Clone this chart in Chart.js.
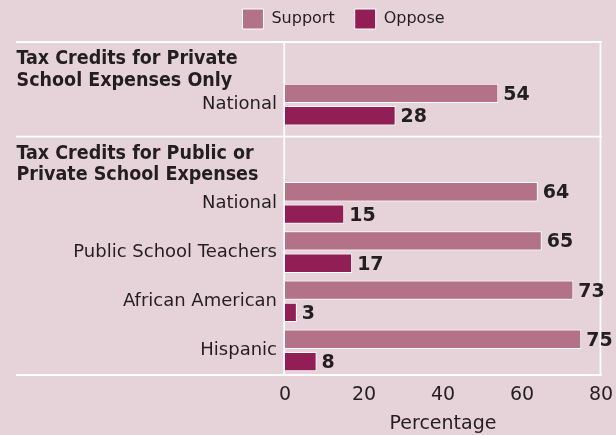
<!DOCTYPE html>
<html>
<head>
<meta charset="utf-8">
<script src="https://cdn.jsdelivr.net/npm/chart.js@4.4.1/dist/chart.umd.min.js"></script>
<style>
  html, body { margin: 0; padding: 0; background: #E6D3D9; }
  canvas { display: block; }
</style>
</head>
<body>
<canvas id="chart" width="616" height="435"></canvas>
<script>
// Survey results: support / oppose for education tax credits (percent)
const sectionTitles = [
  ['Tax Credits for Private', 'School Expenses Only'],
  ['Tax Credits for Public or', 'Private School Expenses']
];
const groupLabels = ['National', 'National', 'Public School Teachers', 'African American', 'Hispanic'];
const groupSections = [0, 1, 1, 1, 1];
const supportValues = [54, 64, 65, 73, 75];
const opposeValues = [28, 15, 17, 3, 8];
const xTicks = [0, 20, 40, 60, 80];
const seriesNames = ['Support', 'Oppose'];

const TEXT = '#231F20';
const FONT = '"DejaVu Sans", "Open Sans", sans-serif';
const HEAD_FONT = '"DejaVu Sans Condensed", "Open Sans", sans-serif';

// One row per group; an empty row holds the heading of every section after the first.
const rowLabels = [], rowSupport = [], rowOppose = [], sectionStartRows = [];
groupLabels.forEach((label, i) => {
  if (i === 0 || groupSections[i] !== groupSections[i - 1]) {
    if (i > 0) {
      sectionStartRows.push(rowLabels.length);
      rowLabels.push(''); rowSupport.push(null); rowOppose.push(null);
    } else {
      sectionStartRows.push(-1);
    }
  }
  rowLabels.push(label);
  rowSupport.push(supportValues[i]);
  rowOppose.push(opposeValues[i]);
});

const framePlugin = {
  id: 'frame',
  afterLayout(chart) {
    // legend is centred between x=86 and the right edge of the plot
    if (chart.legend) chart.legend.left = 86;
  },
  beforeDatasetsDraw(chart) {
    const { ctx, chartArea, scales } = chart;
    const x = scales.x, y = scales.y;
    const left = 16, right = x.getPixelForValue(80);
    const top = chartArea.top - 38;
    const bottom = chartArea.bottom;
    ctx.save();
    ctx.strokeStyle = '#FFFFFF';
    ctx.lineWidth = 1.8;
    const hLine = (py) => { ctx.beginPath(); ctx.moveTo(left, py); ctx.lineTo(right + 1, py); ctx.stroke(); };
    const vLine = (px) => { ctx.beginPath(); ctx.moveTo(px, top); ctx.lineTo(px, bottom); ctx.stroke(); };
    // section boundaries
    const bounds = sectionStartRows.map(r => r < 0 ? top : y.getPixelForValue(r - 0.35));
    bounds.forEach(hLine);
    hLine(bottom);
    vLine(x.getPixelForValue(0) - 0.8);
    vLine(right - 0.5);
    // section headings
    ctx.fillStyle = TEXT;
    ctx.font = 'bold 19.5px ' + HEAD_FONT;
    ctx.textAlign = 'left';
    ctx.textBaseline = 'alphabetic';
    bounds.forEach((b, s) => {
      sectionTitles[s].forEach((line, j) => ctx.fillText(line, 16.5, b + 22 + j * 21.5));
    });
    ctx.restore();
  },
  afterDatasetsDraw(chart) {
    const { ctx } = chart;
    ctx.save();
    ctx.fillStyle = TEXT;
    ctx.font = 'bold 19px ' + FONT;
    ctx.textAlign = 'left';
    ctx.textBaseline = 'middle';
    chart.data.datasets.forEach((ds, di) => {
      chart.getDatasetMeta(di).data.forEach((bar, i) => {
        const v = ds.data[i];
        if (v === null || v === undefined) return;
        ctx.fillText(String(v), bar.x + 5, bar.y + 1.5);
      });
    });
    ctx.restore();
  }
};

new Chart(document.getElementById('chart'), {
  type: 'bar',
  data: {
    labels: rowLabels,
    datasets: [
      { label: seriesNames[0], data: rowSupport, backgroundColor: '#B47289', borderColor: '#FFFFFF', borderWidth: 1 },
      { label: seriesNames[1], data: rowOppose, backgroundColor: '#911E55', borderColor: '#FFFFFF', borderWidth: 1 }
    ]
  },
  options: {
    indexAxis: 'y',
    responsive: false,
    animation: false,
    categoryPercentage: 0.909,
    barPercentage: 0.866,
    layout: { padding: { top: -11, left: 16, right: 15, bottom: 0 } },
    plugins: {
      legend: {
        position: 'top',
        align: 'center',
        labels: {
          boxWidth: 21,
          boxHeight: 20,
          padding: 20,
          color: TEXT,
          font: { family: FONT, size: 16 }
        }
      },
      tooltip: { enabled: false }
    },
    scales: {
      spacer: {
        type: 'linear',
        axis: 'x',
        position: 'top',
        display: true,
        grid: { display: false, drawTicks: false },
        border: { display: false },
        ticks: { display: false },
        afterFit(s) { s.height = 41; }
      },
      x: {
        type: 'linear',
        position: 'bottom',
        min: xTicks[0],
        max: xTicks[xTicks.length - 1],
        afterBuildTicks(s) { s.ticks = xTicks.map(v => ({ value: v })); },
        grid: { display: false, drawTicks: false },
        border: { display: false },
        ticks: { color: TEXT, font: { family: FONT, size: 19 }, padding: 9 },
        title: { display: true, text: 'Percentage', color: TEXT, font: { family: FONT, size: 19 }, padding: { top: 0, bottom: 0 } },
        afterFit(s) { s.height = 60; s.paddingLeft = 0; s.paddingRight = 0; }
      },
      y: {
        type: 'category',
        grid: { display: false, drawTicks: false },
        border: { display: false },
        ticks: { color: TEXT, font: { family: FONT, size: 18 }, padding: 8, autoSkip: false },
        afterFit(s) { s.width = 269; }
      }
    }
  },
  plugins: [framePlugin]
});
</script>
</body>
</html>
